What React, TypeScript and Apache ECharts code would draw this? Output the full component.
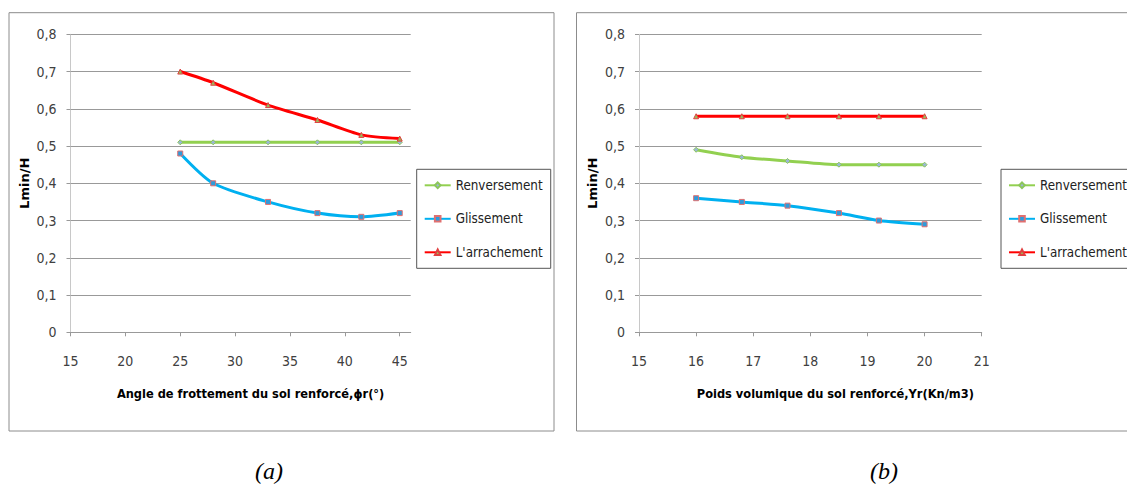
import React, { useEffect, useRef } from "react";
import * as echarts from "echarts";

const seriesNames = ["Renversement", "Glissement", "L'arrachement"];

// Chart (a): friction angle
const xAngle = [25, 28, 33, 37.5, 41.5, 45];
const renvA = [0.51, 0.51, 0.51, 0.51, 0.51, 0.51];
const glisA = [0.48, 0.4, 0.35, 0.32, 0.31, 0.32];
const arraA = [0.7, 0.67, 0.61, 0.57, 0.53, 0.52];
const xTicksA = [15, 20, 25, 30, 35, 40, 45];

// Chart (b): unit weight
const xPoids = [16, 16.8, 17.6, 18.5, 19.2, 20];
const renvB = [0.49, 0.47, 0.46, 0.45, 0.45, 0.45];
const glisB = [0.36, 0.35, 0.34, 0.32, 0.3, 0.29];
const arraB = [0.58, 0.58, 0.58, 0.58, 0.58, 0.58];
const xTicksB = [15, 16, 17, 18, 19, 20, 21];

const titleA = "Angle de frottement du sol renforcé,ϕr(°)";
const titleB = "Poids volumique du sol renforcé,Yr(Kn/m3)";
const yTitle = "Lmin/H";

const FONT = "'DejaVu Sans Condensed', 'Liberation Sans Narrow', sans-serif";

const styles = [
  { line: "#92D050", symbol: "diamond", fill: "#9ab8d6", border: "#8cc65a" },
  { line: "#00B0F0", symbol: "rect", fill: "#2F9BDB", border: "#E07070" },
  { line: "#FF0000", symbol: "triangle", fill: "#9BBB59", border: "#E04040" },
];

function pairs(xs: number[], ys: number[]) {
  return xs.map((x, i) => [x, ys[i]]);
}

function mkSeries(name: string, idx: number, data: number[][], axisIndex: number) {
  const s = styles[idx];
  return {
    type: "line",
    name,
    xAxisIndex: axisIndex,
    yAxisIndex: axisIndex,
    data,
    smooth: 0.25,
    symbol: s.symbol,
    symbolSize: idx === 0 ? 5 : 5,
    showSymbol: true,
    lineStyle: { color: s.line, width: 3 },
    itemStyle: { color: s.fill, borderColor: s.border, borderWidth: 1 },
    emphasis: { disabled: true },
  };
}

function yAxisCfg(gridIndex: number) {
  return {
    type: "value",
    gridIndex,
    min: 0,
    max: 0.8,
    interval: 0.1,
    name: yTitle,
    nameLocation: "middle",
    nameGap: 40,
    nameRotate: 90,
    nameTextStyle: {
      fontFamily: "'DejaVu Sans', sans-serif",
      fontWeight: "bold",
      fontSize: 13,
      color: "#000",
    },
    axisLine: { show: true, lineStyle: { color: "#c8c8c8", width: 1 } },
    axisTick: { show: true, inside: false, length: 4, lineStyle: { color: "#999" } },
    axisLabel: {
      margin: 14,
      fontFamily: FONT,
      fontSize: 14,
      color: "#404040",
      formatter: (v: number) => (v === 0 ? "0" : v.toFixed(1).replace(".", ",")),
    },
    splitLine: { show: true, lineStyle: { color: "#999", width: 1 } },
  };
}

function xAxisCfg(gridIndex: number, min: number, max: number, interval: number, ticks: number[], name: string, shift: number) {
  return {
    type: "value",
    gridIndex,
    min,
    max,
    interval,
    name,
    nameLocation: "middle",
    nameGap: 55,
    nameTextStyle: {
      fontFamily: FONT,
      fontWeight: "bold",
      fontSize: 12.7,
      color: "#000",
      padding: [0, 0, 0, shift],
    },
    axisLine: { show: true, onZero: false, lineStyle: { color: "#999", width: 1 } },
    axisTick: { show: true, inside: false, length: 4, customValues: ticks, lineStyle: { color: "#999" } },
    axisLabel: {
      margin: 22,
      fontFamily: FONT,
      fontSize: 14,
      color: "#404040",
      customValues: ticks,
    },
    splitLine: { show: false },
  };
}

function legendCfg(left: number) {
  return {
    left,
    top: 169.3,
    orient: "vertical",
    backgroundColor: "#fff",
    borderColor: "#555",
    borderWidth: 1,
    borderRadius: 0,
    padding: [8, 8, 8, 7],
    itemWidth: 26,
    itemHeight: 7,
    itemGap: 17.5,
    selectedMode: false,
    data: seriesNames,
    textStyle: { fontFamily: FONT, fontSize: 13.3, color: "#222", lineHeight: 16 },
  };
}

export default function App() {
  const ref = useRef<HTMLDivElement>(null);

  useEffect(() => {
    if (!ref.current) return;
    const chart = echarts.init(ref.current, undefined, { renderer: "svg" });
    const option: any = {
      animation: false,
      backgroundColor: "#fff",
      grid: [
        { left: 70.5, top: 34.3, width: 340.2, height: 298, containLabel: false },
        { left: 639, top: 34.3, width: 342.7, height: 298, containLabel: false },
      ],
      xAxis: [
        xAxisCfg(0, 15, 46, 5, xTicksA, titleA, 20),
        xAxisCfg(1, 15, 21, 1, xTicksB, titleB, 50),
      ],
      yAxis: [yAxisCfg(0), yAxisCfg(1)],
      legend: [legendCfg(416.7), legendCfg(1001)],
      series: [
        mkSeries(seriesNames[0], 0, pairs(xAngle, renvA), 0),
        mkSeries(seriesNames[1], 1, pairs(xAngle, glisA), 0),
        mkSeries(seriesNames[2], 2, pairs(xAngle, arraA), 0),
        mkSeries(seriesNames[0], 0, pairs(xPoids, renvB), 1),
        mkSeries(seriesNames[1], 1, pairs(xPoids, glisB), 1),
        mkSeries(seriesNames[2], 2, pairs(xPoids, arraB), 1),
      ],
      graphic: [
        {
          type: "rect",
          shape: { x: 9, y: 12.7, width: 545, height: 418.3 },
          style: { fill: "none", stroke: "#8c8c8c", lineWidth: 1 },
          z: -10,
          silent: true,
        },
        {
          type: "rect",
          shape: { x: 576.5, y: 12.7, width: 600, height: 418.3 },
          style: { fill: "none", stroke: "#8c8c8c", lineWidth: 1 },
          z: -10,
          silent: true,
        },
        {
          type: "text",
          x: 269,
          y: 471,
          style: {
            text: "(a)",
            font: "italic 24px 'Liberation Serif', 'DejaVu Serif', serif",
            fill: "#000",
            textAlign: "center",
            textVerticalAlign: "middle",
          },
        },
        {
          type: "text",
          x: 884,
          y: 471,
          style: {
            text: "(b)",
            font: "italic 24px 'Liberation Serif', 'DejaVu Serif', serif",
            fill: "#000",
            textAlign: "center",
            textVerticalAlign: "middle",
          },
        },
      ],
    };
    chart.setOption(option);
    return () => chart.dispose();
  }, []);

  return (
    <div
      ref={ref}
      style={{ position: "fixed", left: 0, top: 0, width: 1127, height: 486, background: "#fff" }}
    />
  );
}
